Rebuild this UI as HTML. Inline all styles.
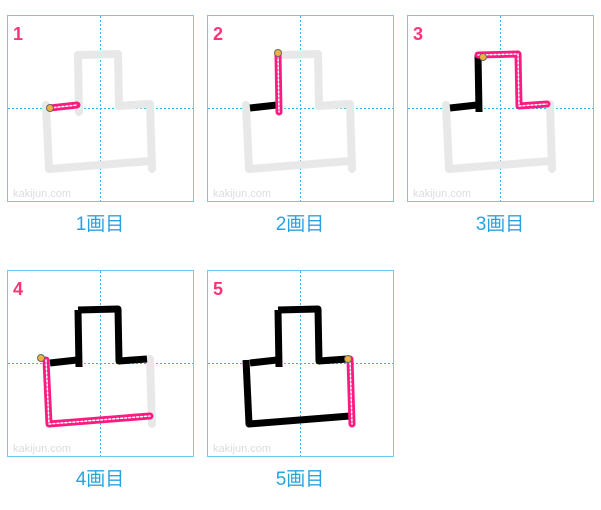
<!DOCTYPE html>
<html><head><meta charset="utf-8"><style>
body{margin:0;background:#fff;width:601px;height:510px;overflow:hidden}
svg{display:block}
</style></head><body>
<svg width="601" height="510" xmlns="http://www.w3.org/2000/svg">
<defs>
<g id="s1"><polyline points="43,93 70,90"/></g>
<g id="s2"><polyline points="71,40 72,97"/></g>
<g id="s3"><polyline points="71,40 111,39 112,91 140,89"/></g>
<g id="s4"><polyline points="39,90 42,154 143,146"/></g>
<g id="s5"><polyline points="143,89 145,154"/></g>
<g id="frame">
<rect x="0.5" y="0.5" width="186" height="186" fill="#fff" stroke="#6ccbf5"/>
<line x1="93.5" y1="1" x2="93.5" y2="186" stroke="#33b5ee" stroke-dasharray="2,2"/>
<line x1="1" y1="93.5" x2="186" y2="93.5" stroke="#33b5ee" stroke-dasharray="2,2"/>
<text x="6" y="182" fill="#dcdcdc" font-size="11">kakijun.com</text>
</g>
</defs>
<g font-family="Liberation Sans, Noto Sans CJK JP, sans-serif">
<g transform="translate(7,15)">
<use href="#frame"/>
<text x="6" y="25" fill="#ff3377" font-size="18" font-weight="bold">1</text>
<g fill="none" stroke="#e8e8e8" stroke-width="8" stroke-linecap="round" stroke-linejoin="round"><use href="#s2"/><use href="#s3"/><use href="#s4"/><use href="#s5"/></g>
<g fill="none" stroke-linecap="round" stroke-linejoin="round"><use href="#s1" stroke="#ff1a80" stroke-width="7"/><use href="#s1" stroke="#fff" stroke-width="1.5" stroke-dasharray="2,2"/></g>
<circle cx="43" cy="93" r="3.5" fill="#f5b040" stroke="#666" stroke-width="1"/>
</g>
<text x="100" y="230" text-anchor="middle" fill="#29a3e0" font-size="19">1画目</text>

<g transform="translate(207,15)">
<use href="#frame"/>
<text x="6" y="25" fill="#ff3377" font-size="18" font-weight="bold">2</text>
<g fill="none" stroke="#e8e8e8" stroke-width="8" stroke-linecap="round" stroke-linejoin="round"><use href="#s3"/><use href="#s4"/><use href="#s5"/></g>
<g fill="none" stroke="#000" stroke-width="7" stroke-linejoin="round"><use href="#s1"/></g>
<g fill="none" stroke-linecap="round" stroke-linejoin="round"><use href="#s2" stroke="#ff1a80" stroke-width="7"/><use href="#s2" stroke="#fff" stroke-width="1.5" stroke-dasharray="2,2"/></g>
<circle cx="71" cy="38" r="3.5" fill="#f5b040" stroke="#666" stroke-width="1"/>
</g>
<text x="300" y="230" text-anchor="middle" fill="#29a3e0" font-size="19">2画目</text>

<g transform="translate(407,15)">
<use href="#frame"/>
<text x="6" y="25" fill="#ff3377" font-size="18" font-weight="bold">3</text>
<g fill="none" stroke="#e8e8e8" stroke-width="8" stroke-linecap="round" stroke-linejoin="round"><use href="#s4"/><use href="#s5"/></g>
<g fill="none" stroke="#000" stroke-width="7" stroke-linejoin="round"><use href="#s1"/><use href="#s2"/></g>
<g fill="none" stroke-linecap="round" stroke-linejoin="round"><use href="#s3" stroke="#ff1a80" stroke-width="7"/><use href="#s3" stroke="#fff" stroke-width="1.5" stroke-dasharray="2,2"/></g>
<circle cx="76" cy="42" r="3.5" fill="#f5b040" stroke="#666" stroke-width="1"/>
</g>
<text x="500" y="230" text-anchor="middle" fill="#29a3e0" font-size="19">3画目</text>

<g transform="translate(7,270)">
<use href="#frame"/>
<text x="6" y="25" fill="#ff3377" font-size="18" font-weight="bold">4</text>
<g fill="none" stroke="#e8e8e8" stroke-width="8" stroke-linecap="round" stroke-linejoin="round"><use href="#s5"/></g>
<g fill="none" stroke="#000" stroke-width="7" stroke-linejoin="round"><use href="#s1"/><use href="#s2"/><use href="#s3"/></g>
<g fill="none" stroke-linecap="round" stroke-linejoin="round"><use href="#s4" stroke="#ff1a80" stroke-width="7"/><use href="#s4" stroke="#fff" stroke-width="1.5" stroke-dasharray="2,2"/></g>
<circle cx="34" cy="88" r="3.5" fill="#f5b040" stroke="#666" stroke-width="1"/>
</g>
<text x="100" y="485" text-anchor="middle" fill="#29a3e0" font-size="19">4画目</text>

<g transform="translate(207,270)">
<use href="#frame"/>
<text x="6" y="25" fill="#ff3377" font-size="18" font-weight="bold">5</text>
<g fill="none" stroke="#000" stroke-width="7" stroke-linejoin="round"><use href="#s1"/><use href="#s2"/><use href="#s3"/><use href="#s4"/></g>
<g fill="none" stroke-linecap="round" stroke-linejoin="round"><use href="#s5" stroke="#ff1a80" stroke-width="7"/><use href="#s5" stroke="#fff" stroke-width="1.5" stroke-dasharray="2,2"/></g>
<circle cx="141" cy="89" r="3.5" fill="#f5b040" stroke="#666" stroke-width="1"/>
</g>
<text x="300" y="485" text-anchor="middle" fill="#29a3e0" font-size="19">5画目</text>
</g>
</svg>
</body></html>
